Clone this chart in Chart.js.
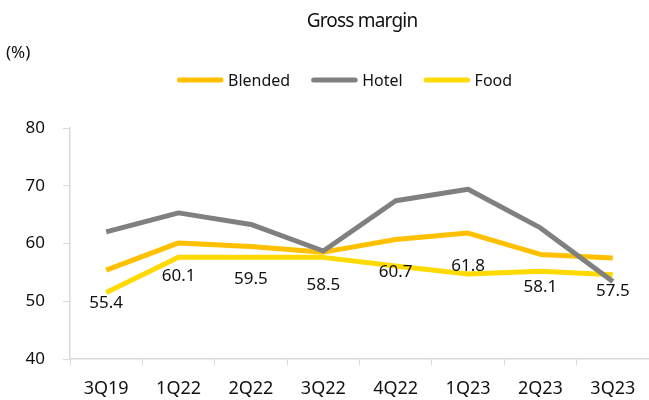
<!DOCTYPE html>
<html>
<head>
<meta charset="utf-8">
<script src="https://cdn.jsdelivr.net/npm/chart.js@4.4.0/dist/chart.umd.min.js"></script>
<style>
  html, body { margin: 0; padding: 0; background: #fff; }
  #wrap { width: 649px; height: 400px; }
</style>
</head>
<body>
<div id="wrap"><canvas id="myChart" width="649" height="400"></canvas></div>
<script>
const quarters = ['3Q19', '1Q22', '2Q22', '3Q22', '4Q22', '1Q23', '2Q23', '3Q23'];
const blended = [55.4, 60.1, 59.5, 58.5, 60.7, 61.8, 58.1, 57.5];
const hotel = [62.0, 65.3, 63.3, 58.7, 67.4, 69.4, 62.7, 53.4];
const food = [51.5, 57.6, 57.6, 57.6, 56.1, 54.7, 55.2, 54.6];
const yTicks = [40, 50, 60, 70, 80];

const FONT = '"Noto Sans", sans-serif';

// title, "(%)", legend and value labels drawn by hand
const extras = {
  id: 'extras',
  afterDatasetsDraw(chart) {
    const ctx = chart.ctx;
    ctx.save();
    ctx.fillStyle = '#111';
    ctx.textBaseline = 'alphabetic';
    ctx.font = '19px ' + FONT;
    ctx.textAlign = 'center';
    ctx.letterSpacing = '-0.8px';
    ctx.fillText('Gross margin', 362, 27);
    ctx.letterSpacing = '0px';
    ctx.font = '17px ' + FONT;
    ctx.textAlign = 'left';
    ctx.fillText('(%)', 6, 58);

    // legend
    ctx.font = '16px ' + FONT;
    let x = 177;
    chart.data.datasets.forEach(d => {
      ctx.strokeStyle = d.borderColor;
      ctx.lineWidth = 5;
      ctx.lineCap = 'round';
      ctx.beginPath();
      ctx.moveTo(x + 2.5, 80);
      ctx.lineTo(x + 44, 80);
      ctx.stroke();
      ctx.fillText(d.label, x + 51, 85.5);
      x += 51 + ctx.measureText(d.label).width + 21;
    });

    // value labels under the blended line
    const meta = chart.getDatasetMeta(0);
    const ys = chart.scales.y;
    ctx.font = '17px ' + FONT;
    ctx.textAlign = 'center';
    ctx.textBaseline = 'middle';
    blended.forEach((v, i) => {
      const px = meta.data[i].x;
      const py = ys.getPixelForValue(v) + 33;
      ctx.fillText(v.toFixed(1), px, py);
    });
    ctx.restore();
  }
};

new Chart(document.getElementById('myChart'), {
  type: 'line',
  data: {
    labels: quarters,
    datasets: [
      { label: 'Blended', data: blended, borderColor: '#FFC000', backgroundColor: '#FFC000', order: 1 },
      { label: 'Hotel', data: hotel, borderColor: '#808080', backgroundColor: '#808080', order: 0 },
      { label: 'Food', data: food, borderColor: '#FFDA00', backgroundColor: '#FFDA00', order: 2 }
    ]
  },
  options: {
    responsive: false,
    animation: false,
    layout: { padding: { top: 128, right: 0, left: 0, bottom: 0 } },
    elements: {
      line: { borderWidth: 5, tension: 0, borderJoinStyle: 'round', borderCapStyle: 'butt' },
      point: { radius: 0, hoverRadius: 0 }
    },
    plugins: {
      legend: { display: false },
      title: { display: false },
      tooltip: { enabled: false }
    },
    scales: {
      x: {
        offset: true,
        afterFit(scale) { scale.height = 41; },
        grid: { offset: true, drawOnChartArea: false, tickLength: 6, color: '#d9d9d9' },
        border: { color: '#d9d9d9', width: 1.5 },
        ticks: { color: '#111', font: { family: FONT, size: 18 }, padding: 13, maxRotation: 0 }
      },
      y: {
        min: yTicks[0],
        max: yTicks[yTicks.length - 1],
        afterFit(scale) { scale.width = 70; },
        afterBuildTicks(scale) { scale.ticks = yTicks.map(v => ({ value: v })); },
        grid: { drawOnChartArea: false, tickLength: 7, color: '#d9d9d9' },
        border: { color: '#d9d9d9', width: 1.5 },
        ticks: { color: '#111', font: { family: FONT, size: 17 }, padding: 18 }
      }
    }
  },
  plugins: [extras]
});
</script>
</body>
</html>
